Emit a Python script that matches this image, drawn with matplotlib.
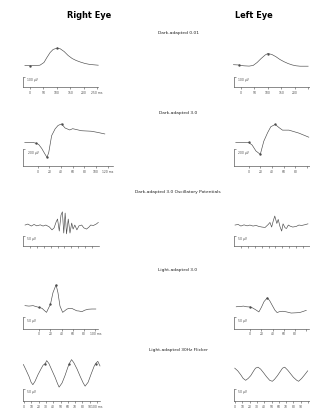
import matplotlib
matplotlib.use("Agg")
import matplotlib.pyplot as plt

W, H = 310, 410

# column titles and section titles
eye_titles = ["Right Eye", "Left Eye"]
section_titles = ["Dark-adapted 0.01", "Dark-adapted 3.0",
                  "Dark-adapted 3.0 Oscillatory Potentials",
                  "Light-adapted 3.0", "Light-adapted 30Hz Flicker"]

# Dark-adapted 0.01 (ms, uV)
da001_t_r = [-19, 0, 20, 37, 52, 63, 75, 86, 101, 112, 127, 142, 157, 172, 187, 205, 224, 254]
da001_v_r = [0, 0, 0, 3, 30, 80, 130, 160, 175, 168, 140, 100, 70, 50, 35, 20, 10, 3]
da001_t_l = [-28, -7, 10, 30, 45, 60, 75, 90, 100, 115, 130, 145, 160, 175, 190, 205, 220, 250]
da001_v_l = [8, 5, -3, -6, 0, 30, 70, 105, 120, 110, 88, 60, 38, 20, 6, -3, -7, -7]

# Dark-adapted 3.0
da3_t_r = [-22, -8, -2, 2, 7, 12, 16, 19, 24, 30, 35, 41, 47, 55, 60, 75, 92, 103, 115]
da3_v_r = [0, 0, -10, -25, -70, -130, -175, -120, 80, 160, 200, 218, 170, 147, 162, 138, 132, 118, 100]
da3_t_l = [-22, -6, 0, 6, 12.5, 20, 26, 32.5, 38, 45.5, 52, 58, 69, 86, 103]
da3_v_l = [0, 0, 0, -30, -100, -140, 15, 115, 185, 212, 175, 145, 145, 110, 62]

# Oscillatory potentials
op_t_r = [-7, -3, 2, 6, 10, 15, 19, 23, 28, 32, 35, 38, 40, 42.5, 45, 47, 49, 51, 53, 55.5,
          58, 60.5, 62.5, 65, 68, 71, 75, 78, 82, 85.5, 88, 92, 96, 99]
op_v_r = [2, 7, -3, 5, -2, 3, -3, 2, -7, -22, -12, 18, 32, -28, 52, 68, -38, 62, -42, 32,
          -38, 12, -18, 2, -22, -2, 2, -12, -18, -8, 2, 0, 7, 15]
op_t_l = [-8.5, -4, 0, 4.5, 9, 13, 17.5, 22, 26, 30.5, 35, 39.6, 42, 44.5, 47, 49, 52, 54,
          56.5, 59, 61, 64, 66, 68.6, 71, 75, 80, 84, 88, 93, 97]
op_v_l = [2, 5, -3, 3, -2, 2, -3, 0, -5, -8, -10, 5, 15, -8, 25, 47, 10, 30,
          -5, -28, 8, -12, -15, 2, -3, -8, -5, 2, 0, 4, 8]

# Light-adapted 3.0
la3_t_r = [-25.5, -18.4, -11, -6, 0, 5, 8.4, 13, 16.4, 20, 24.5, 30, 33.4, 37, 41.8, 45, 49,
           53, 58, 62, 67, 71, 76, 81.6, 87.5, 94, 101]
la3_v_r = [2, 0, 2, -2, -6, -10, -18, -28, -10, 8, 60, 95, 60, 0, -28, -22, -14,
           -10, -10, -15, -21, -22, -25, -18, -14, -13, -13]
la3_t_l = [-25, -19, -12, -6.6, 0, 4, 9.5, 15.4, 20, 24.6, 30.4, 34.5, 40, 44, 48, 52, 58,
           65, 73, 81, 88, 93, 100]
la3_v_l = [-3, -2, 0, -3, -4, -8, -16, -26, -5, 20, 37, 25, 0, -18, -29, -25, -23,
           -26, -31, -30, -29, -25, -19]

# Light-adapted 30Hz flicker
fl_t_r = [-1, 2.7, 6.8, 9.6, 12, 15, 19, 23, 26, 29, 31, 34, 38, 42.5, 46, 48, 52, 56, 60, 62,
          65, 68, 72.6, 77, 81, 83.6, 87.7, 92, 96, 98, 101, 104]
fl_v_r = [38, 15, -12, -35, -45, -31, -4, 19, 35, 42, 54, 42, 15, -15, -42, -55, -38, -8, 27, 42,
          58, 46, 19, -12, -38, -51, -35, 0, 31, 42, 51, 32]
fl_t_l = [-0.5, 3.6, 7.7, 11, 14.5, 18, 21.4, 25.5, 28, 31.4, 35, 39, 43, 47.4, 51, 54, 58,
          62.5, 65, 68, 72, 76, 80, 84.5, 87, 91, 95.4, 99.5]
fl_v_l = [23, 12, -4, -19, -27, -19, -8, 12, 23, 27, 19, 4, -12, -27, -31, -23, -8,
          12, 23, 27, 15, 0, -15, -27, -31, -20, -4, 12]

fig = plt.figure(figsize=(W / 100, H / 100), dpi=100)
fig.patch.set_facecolor("white")

LEFT_SHIFT = 211  # pixel offset of the left-eye column
INK = "#4a4a4a"


def panel(x0, x1, ytop, yaxis, xlim, ylim, t, v, marks, ticks, labels, scale, scale_txt):
    ax = fig.add_axes([x0 / W, 1 - yaxis / H, (x1 - x0) / W, (yaxis - ytop) / H])
    ax.set_facecolor("none")
    ax.plot(t, v, color=INK, lw=0.45, marker="o", markersize=0.7,
            markevery=marks, clip_on=False)
    ax.set_xlim(*xlim)
    ax.set_ylim(*ylim)
    for s in ["top", "right"]:
        ax.spines[s].set_visible(False)
    for s in ["bottom", "left"]:
        ax.spines[s].set_linewidth(0.45)
        ax.spines[s].set_color(INK)
    ax.spines["left"].set_bounds(ylim[0], ylim[0] + scale)
    # hide labels that would fall off the right edge of the figure
    px_per_ms = (x1 - x0) / (xlim[1] - xlim[0])
    shown = [lab if x0 + (tk - xlim[0]) * px_per_ms + 4 * len(lab) / 2 < W - 1 else ""
             for tk, lab in zip(ticks, labels)]
    ax.set_xticks(ticks)
    ax.set_xticklabels(shown)
    ax.set_yticks([ylim[0] + scale])
    ax.tick_params(axis="x", length=1.4, width=0.4, pad=0.6, labelsize=2.2, colors=INK)
    ax.tick_params(axis="y", direction="in", length=1.4, width=0.4, labelleft=False, colors=INK)
    ax.text(xlim[0] + 0.05 * (xlim[1] - xlim[0]), ylim[0] + scale * 0.95, scale_txt,
            fontsize=2.2, va="top", ha="left", color=INK)
    return ax


def both(x0, x1, ytop, yaxis, xlim, ylim, tr, vr, mr, tl, vl, ml, ticks, labels, scale, scale_txt):
    panel(x0, x1, ytop, yaxis, xlim, ylim, tr, vr, mr, ticks, labels, scale, scale_txt)
    panel(x0 + LEFT_SHIFT, x1 + LEFT_SHIFT, ytop, yaxis, xlim, ylim, tl, vl, ml,
          ticks, labels, scale, scale_txt)


t1 = [0, 50, 100, 150, 200, 250]
both(23, 98.5, 45, 88, (-26, 255), (-215, 215), da001_t_r, da001_v_r, [1, 8],
     da001_t_l, da001_v_l, [1, 8], t1, [str(x) for x in t1[:-1]] + ["250 ms"], 100, "100 \u00b5V")

t2 = [0, 20, 40, 60, 80, 100, 120]
both(23, 113, 120, 167, (-25, 129), (-277, 276), da3_t_r, da3_v_r, [2, 6, 11],
     da3_t_l, da3_v_l, [2, 5, 9], t2, [str(x) for x in t2[:-1]] + ["120 ms"], 200, "200 \u00b5V")

t3 = [0, 10, 20, 30, 40, 50, 60, 70, 80, 90]
both(23, 99, 205, 246.7, (-10, 100), (-101, 107), op_t_r, op_v_r, [],
     op_t_l, op_v_l, [], t3, [""] * len(t3), 50, "50 \u00b5V")

t4 = [0, 20, 40, 60, 80, 100]
both(23, 97.5, 282, 329.5, (-29, 104), (-100, 112), la3_t_r, la3_v_r, [4, 9, 11],
     la3_t_l, la3_v_l, [4, 10], t4, [str(x) for x in t4[:-1]] + ["100 ms"], 50, "50 \u00b5V")

t5 = [0, 10, 20, 30, 40, 50, 60, 70, 80, 90, 100]
both(23, 100, 356, 402, (-1.5, 104), (-112, 77), fl_t_r, fl_v_r, [9, 19, 29],
     fl_t_l, fl_v_l, [], t5, [str(x) for x in t5[:-1]] + ["100 ms"], 50, "50 \u00b5V")

# titles
for title, xc in zip(eye_titles, [89, 254]):
    fig.text(xc / W, 1 - 16 / H, title, ha="center", va="center", fontsize=6.6,
             fontweight="bold", fontstretch="condensed",
             family=["Liberation Sans Narrow", "DejaVu Sans"])
for title, y in zip(section_titles, [33, 112.7, 191.7, 270, 350]):
    fig.text(178 / W, 1 - y / H, title, ha="center", va="center", fontsize=3.2, color="#222222")

fig.savefig("out.png", dpi=100)
